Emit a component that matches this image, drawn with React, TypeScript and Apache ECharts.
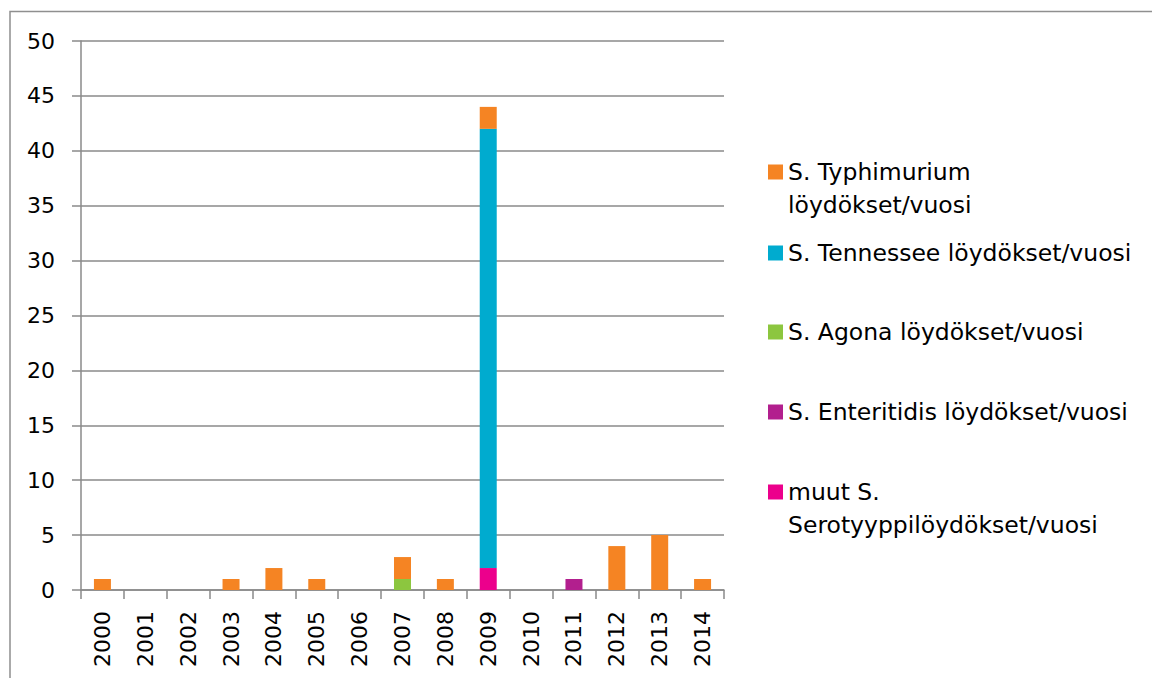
import React, { useEffect, useRef } from "react";
import * as echarts from "echarts";

const years = ["2000", "2001", "2002", "2003", "2004", "2005", "2006", "2007", "2008", "2009", "2010", "2011", "2012", "2013", "2014"];
const muut = [0, 0, 0, 0, 0, 0, 0, 0, 0, 2, 0, 0, 0, 0, 0];
const enteritidis = [0, 0, 0, 0, 0, 0, 0, 0, 0, 0, 0, 1, 0, 0, 0];
const agona = [0, 0, 0, 0, 0, 0, 0, 1, 0, 0, 0, 0, 0, 0, 0];
const tennessee = [0, 0, 0, 0, 0, 0, 0, 0, 0, 40, 0, 0, 0, 0, 0];
const typhimurium = [1, 0, 0, 1, 2, 1, 0, 2, 1, 2, 0, 0, 4, 5, 1];

const seriesDefs = [
  { name: "muut S. Serotyyppilöydökset/vuosi", label: "muut S.\nSerotyyppilöydökset/vuosi", data: muut, color: "#EC008C" },
  { name: "S. Enteritidis löydökset/vuosi", label: "S. Enteritidis löydökset/vuosi", data: enteritidis, color: "#B21F8E" },
  { name: "S. Agona löydökset/vuosi", label: "S. Agona löydökset/vuosi", data: agona, color: "#8CC63F" },
  { name: "S. Tennessee löydökset/vuosi", label: "S. Tennessee löydökset/vuosi", data: tennessee, color: "#00ABCF" },
  { name: "S. Typhimurium löydökset/vuosi", label: "S. Typhimurium\nlöydökset/vuosi", data: typhimurium, color: "#F58423" },
];

// legend marker centre y positions
const legendY: Record<string, number> = {
  "S. Typhimurium löydökset/vuosi": 172,
  "S. Tennessee löydökset/vuosi": 253,
  "S. Agona löydökset/vuosi": 332,
  "S. Enteritidis löydökset/vuosi": 412,
  "muut S. Serotyyppilöydökset/vuosi": 492,
};

const FONT = "DejaVu Sans";
const LH = 33;

export default function App() {
  const ref = useRef<HTMLDivElement>(null);
  useEffect(() => {
    if (!ref.current) return;
    const chart = echarts.init(ref.current, null, { renderer: "svg" });
    const gridColor = "#8a8a8a";
    const legends = seriesDefs.map((s) => {
      const twoLine = s.label.includes("\n");
      const h = twoLine ? LH * 3 : LH;
      const text = twoLine ? " \n" + s.label : s.label;
      return {
        orient: "vertical",
        left: 768,
        top: legendY[s.name] - h / 2,
        padding: 0,
        itemWidth: 15,
        itemHeight: 15,
        icon: "rect",
        selectedMode: false,
        data: [s.name],
        formatter: () => text,
        textStyle: {
          fontFamily: FONT,
          fontSize: 23.5,
          color: "#000",
          lineHeight: LH,
        },
      };
    });
    chart.setOption({
      animation: false,
      backgroundColor: "#fff",
      graphic: [
        {
          type: "rect",
          shape: { x: 10, y: 11.5, width: 1200, height: 700 },
          style: { fill: "none", stroke: "#8f8f8f", lineWidth: 1.5 },
          z: 0,
        },
      ],
      legend: legends,
      grid: { left: 81, top: 41, right: 428, bottom: 88, containLabel: false, outerBoundsMode: "none" },
      xAxis: {
        type: "category",
        data: years,
        axisLine: { show: true, lineStyle: { color: gridColor, width: 1.5 } },
        axisTick: { show: true, length: 9, alignWithLabel: false, lineStyle: { color: gridColor, width: 1.5 } },
        axisLabel: { rotate: 90, margin: 21, fontFamily: FONT, fontSize: 22, color: "#000", interval: 0 },
      },
      yAxis: {
        type: "value",
        min: 0,
        max: 50,
        interval: 5,
        axisLine: { show: true, lineStyle: { color: gridColor, width: 1.5 } },
        axisTick: { show: true, length: 9, lineStyle: { color: gridColor, width: 1.5 } },
        splitLine: { show: true, lineStyle: { color: gridColor, width: 1.5 } },
        axisLabel: { margin: 26, fontFamily: FONT, fontSize: 22, color: "#000" },
      },
      series: seriesDefs.map((s) => ({
        name: s.name,
        type: "bar",
        stack: "total",
        barWidth: 17,
        data: s.data,
        itemStyle: { color: s.color },
        emphasis: { disabled: true },
      })),
    });
    return () => chart.dispose();
  }, []);
  return <div ref={ref} style={{ position: "fixed", left: 0, top: 0, width: 1152, height: 678 }} />;
}
